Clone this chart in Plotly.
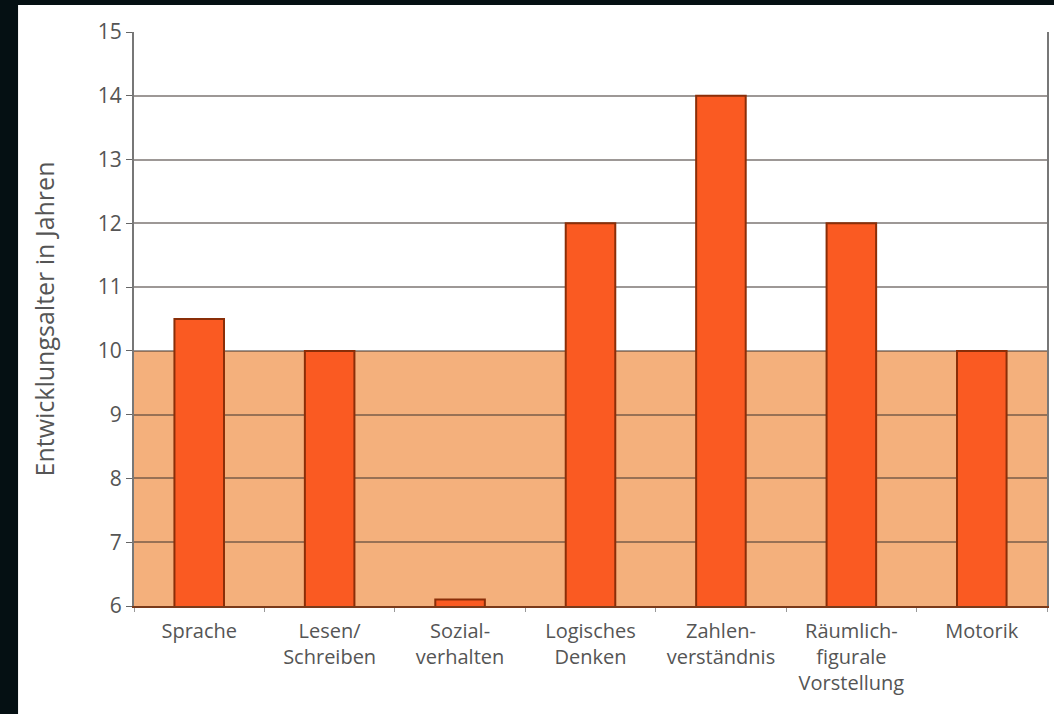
import plotly.graph_objects as go

categories = ["Sprache", "Lesen/<br>Schreiben", "Sozial-<br>verhalten", "Logisches<br>Denken",
              "Zahlen-<br>verständnis", "Räumlich-<br>figurale<br>Vorstellung", "Motorik"]
values = [10.5, 10.0, 6.1, 12.0, 14.0, 12.0, 10.0]
y_ticks = [6, 7, 8, 9, 10, 11, 12, 13, 14, 15]
band_low, band_high = 6, 10

FONT = "Open Sans"
TXT = "#555555"
DARK = "#051013"

fig = go.Figure()
fig.add_trace(go.Bar(
    x=categories, y=values,
    marker=dict(color="#FA5A22", line=dict(color="#8A2E08", width=2)),
    width=0.38,
))

# dark page frame (left and top strips)
fig.add_shape(type="rect", xref="paper", yref="paper",
              x0=-0.3, x1=-0.127, y0=-0.3, y1=1.2,
              fillcolor=DARK, line=dict(width=0), layer="below")
fig.add_shape(type="rect", xref="paper", yref="paper",
              x0=-0.3, x1=1.2, y0=1.047, y1=1.2,
              fillcolor=DARK, line=dict(width=0), layer="below")
# shaded reference band
fig.add_shape(type="rect", xref="paper", yref="y",
              x0=0, x1=1, y0=band_low, y1=band_high,
              fillcolor="#F4B07C", line=dict(width=0), layer="below")

fig.update_layout(
    width=1054, height=714,
    paper_bgcolor="white",
    plot_bgcolor="white",
    margin=dict(l=134, r=5, t=32, b=108),
    showlegend=False,
    font=dict(family=FONT, color=TXT, size=19),
)
fig.update_xaxes(
    showgrid=False,
    showline=True, linecolor="#7A3A1A", linewidth=2,
    ticks="outside", tickson="boundaries", ticklen=4, tickcolor="#999999",
    ticklabelstandoff=6,
    tickfont=dict(size=20, color=TXT, family=FONT),
)
fig.update_yaxes(
    range=[6, 15], tickvals=y_ticks,
    showgrid=True, gridcolor="rgba(60,50,45,0.5)", gridwidth=2,
    showline=True, linecolor="#777777", linewidth=2, mirror=True,
    ticks="outside", ticklen=6, tickcolor="#666666",
    tickfont=dict(size=21, color=TXT, family=FONT),
    title=dict(text="Entwicklungsalter in Jahren", font=dict(size=25, color=TXT, family=FONT), standoff=36),
)

fig.write_html("out.html")
